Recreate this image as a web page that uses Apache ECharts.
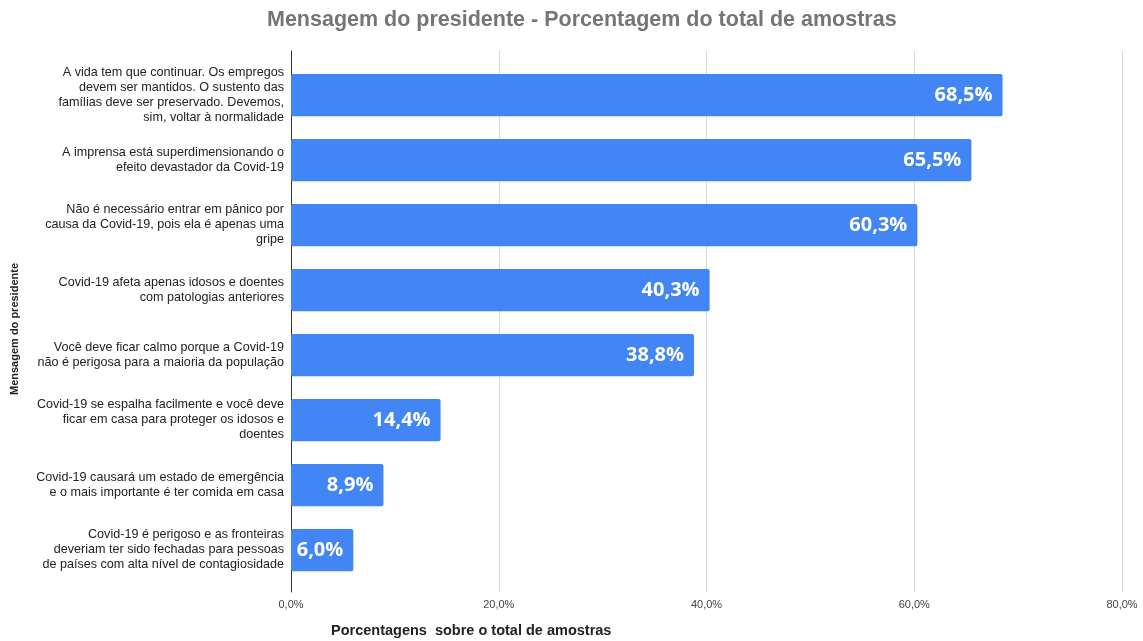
<!DOCTYPE html>
<html><head><meta charset="utf-8">
<script src="https://cdn.jsdelivr.net/npm/echarts@6/dist/echarts.min.js"></script>
<style>html,body{margin:0;padding:0;background:#fff}#c{width:1143px;height:641px}</style>
</head><body><div id="c"></div>
<script>
const categories = [
  "A vida tem que continuar. Os empregos\ndevem ser mantidos. O sustento das\nfamílias deve ser preservado. Devemos,\nsim, voltar à normalidade",
  "A imprensa está superdimensionando o\nefeito devastador da Covid-19",
  "Não é necessário entrar em pânico por\ncausa da Covid-19, pois ela é apenas uma\ngripe",
  "Covid-19 afeta apenas idosos e doentes\ncom patologias anteriores",
  "Você deve ficar calmo porque a Covid-19\nnão é perigosa para a maioria da população",
  "Covid-19 se espalha facilmente e você deve\nficar em casa para proteger os idosos e\ndoentes",
  "Covid-19 causará um estado de emergência\ne o mais importante é ter comida em casa",
  "Covid-19 é perigoso e as fronteiras\ndeveriam ter sido fechadas para pessoas\nde países com alta nível de contagiosidade"
];
const values = [68.5, 65.5, 60.3, 40.3, 38.8, 14.4, 8.9, 6.0];
const xTicks = [0, 20, 40, 60, 80];
const titleText = "Mensagem do presidente - Porcentagem do total de amostras";
const xName = "Porcentagens  sobre o total de amostras";
const yName = "Mensagem do presidente";

const fmt = v => v.toFixed(1).replace('.', ',') + '%';
const chart = echarts.init(document.getElementById('c'), null, {renderer: 'canvas'});
chart.setOption({
  animation: false,
  title: {
    text: titleText, left: 262, top: 4,
    textStyle: {fontFamily: 'Liberation Sans, Arial', fontWeight: 'bold', fontSize: 21.5, color: '#757575'}
  },
  grid: [
    {left: 291, right: 21, top: 51, height: 541},
    {left: 291, right: 21, top: 62.5, height: 520}
  ],
  xAxis: [
    {gridIndex: 0, type: 'value', min: xTicks[0], max: xTicks[xTicks.length - 1], interval: 20,
     axisLine: {show: false}, axisTick: {show: false},
     splitLine: {show: true, lineStyle: {color: '#d9d9d9', width: 1}},
     axisLabel: {formatter: v => fmt(v), fontFamily: 'Liberation Sans, Arial', fontSize: 11, color: '#444', margin: 7}},
    {gridIndex: 1, type: 'value', min: xTicks[0], max: xTicks[xTicks.length - 1], show: false}
  ],
  yAxis: [
    {gridIndex: 0, type: 'value', min: 0, max: 1, axisLabel: {show: false}, axisTick: {show: false},
     splitLine: {show: false}, axisLine: {show: true, lineStyle: {color: '#333', width: 1}}},
    {gridIndex: 1, type: 'category', data: categories, inverse: true,
     axisLine: {show: false}, axisTick: {show: false}, splitLine: {show: false},
     axisLabel: {fontFamily: 'Liberation Sans, Arial', fontSize: 12.6, color: '#222', lineHeight: 15, margin: 7, align: 'right'}}
  ],
  series: [{
    type: 'bar', xAxisIndex: 1, yAxisIndex: 1, data: values,
    barCategoryGap: '35%',
    itemStyle: {color: '#4285f4', borderRadius: 2},
    label: {show: true, position: 'insideRight', distance: 10, formatter: p => fmt(p.value),
      color: '#fff', fontFamily: 'Open Sans, Roboto', fontWeight: 'bold', fontSize: 20}
  }],
  graphic: [
    {type: 'text', left: 331, top: 623,
     style: {text: xName, fontFamily: 'Liberation Sans, Arial', fontWeight: 'bold', fontSize: 14.5, fill: '#222'}},
    {type: 'text', x: 15, y: 329, rotation: Math.PI / 2,
     style: {text: yName, align: 'center', verticalAlign: 'middle', fontFamily: 'Liberation Sans, Arial', fontWeight: 'bold', fontSize: 11, fill: '#222'}}
  ]
});
</script></body></html>
